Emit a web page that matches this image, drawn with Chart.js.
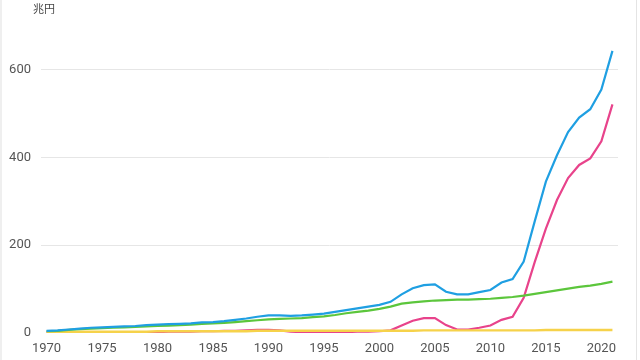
<!DOCTYPE html>
<html>
<head>
<meta charset="utf-8">
<script src="https://cdn.jsdelivr.net/npm/chart.js@4/dist/chart.umd.min.js"></script>
<style>
  html, body { margin: 0; padding: 0; background: #fff; }
  #wrap { position: relative; width: 640px; height: 360px; overflow: hidden; }
  #unit { position: absolute; left: 33px; top: 0px; font: 11px "Noto Sans CJK JP", "Noto Sans", sans-serif; color: #444; }
  #edgeL { position: absolute; left: 0; top: 0; width: 2px; height: 360px; background: #efefef; }
  #edgeR { position: absolute; left: 636px; top: 0; width: 1px; height: 360px; background: #e4e4e4; }
</style>
</head>
<body>
<div id="wrap">
  <canvas id="c" width="640" height="360"></canvas>
  <div id="unit">兆円</div>
  <div id="edgeL"></div>
  <div id="edgeR"></div>
</div>
<script>
const years = [1970,1971,1972,1973,1974,1975,1976,1977,1978,1979,1980,1981,1982,1983,1984,1985,1986,1987,1988,1989,1990,1991,1992,1993,1994,1995,1996,1997,1998,1999,2000,2001,2002,2003,2004,2005,2006,2007,2008,2009,2010,2011,2012,2013,2014,2015,2016,2017,2018,2019,2020,2021];
const blueValues = [5,6,8,10,12,13,14,15,16,18,19,20,21,22,24,25,27,30,33,37,40,40,39,40,42,44,48,52,56,60,64,71,88,102,109,111,94,88,88,93,98,115,123,163,255,345,405,458,491,510,555,643];
const pinkValues = [1,1,1,1,1,1,1,1,1,1,2,3,3,3,4,4,5,5,6,7,7,6,3,2,2,2,2,2,3,3,4,6,17,28,34,34,18,8,8,12,17,30,37,80,162,238,303,353,383,398,437,521];
const greenValues = [4,5,7,9,10,11,12,13,14,15,16,17,18,19,21,22,23,25,27,29,31,32,33,34,36,38,41,45,48,51,55,60,67,70,72,74,75,76,76,77,78,80,82,85,89,93,97,101,105,108,112,117];
const yellowValues = [2,2,2,3,3,3,3,3,3,3,4,4,4,4,4,4,4,4,4,5,5,5,5,5,5,5,5,5,5,5,5,5,5,5,6,6,6,6,6,6,6,6,6,6,6,7,7,7,7,7,7,7];
const yTicks = [0,200,400,600];

const mk = (data, color, w) => ({ data, borderColor: color, backgroundColor: color, borderWidth: w, pointRadius: 0, tension: 0, fill: false });

new Chart(document.getElementById('c'), {
  type: 'line',
  data: {
    labels: years,
    datasets: [
      mk(blueValues, '#1f9fe2', 2.2),
      mk(greenValues, '#5cc63c', 2.2),
      mk(yellowValues, '#f6d24a', 2.4),
      mk(pinkValues, '#e8438b', 2.2)
    ]
  },
  options: {
    responsive: false,
    animation: false,
    layout: { padding: { left: 7, right: 22, top: 39, bottom: 3 } },
    plugins: { legend: { display: false }, tooltip: { enabled: false } },
    scales: {
      x: {
        offset: true,
        afterFit: (s) => { s.height = 24; s.paddingLeft = 0; s.paddingRight = 0; },
        grid: { display: false, drawTicks: false },
        border: { display: false },
        ticks: {
          autoSkip: false, maxRotation: 0, padding: 8,
          color: '#555', font: { family: 'Roboto', size: 13 },
          callback: function(v, i) { const y = years[i]; return y % 5 === 0 ? String(y) : ''; }
        }
      },
      y: {
        min: 0, max: 670,
        afterFit: (s) => { s.width = 34; s.paddingTop = 0; s.paddingBottom = 0; },
        afterBuildTicks: (s) => { s.ticks = yTicks.map(v => ({ value: v })); },
        grid: { drawTicks: false, color: (ctx) => ctx.tick && ctx.tick.value === 0 ? 'rgba(0,0,0,0)' : '#e6e6e6', lineWidth: 1 },
        border: { display: false },
        ticks: { padding: 10, color: '#555', font: { family: 'Roboto', size: 13 } }
      }
    }
  }
});
</script>
</body>
</html>
